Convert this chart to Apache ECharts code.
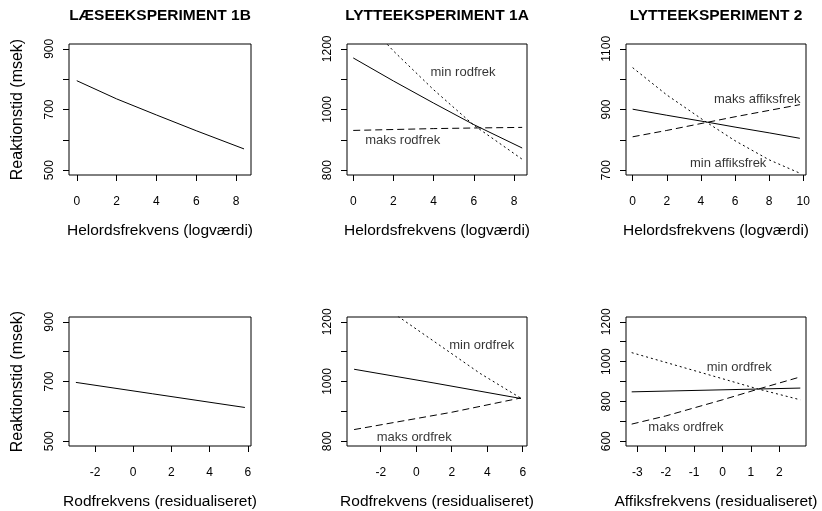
<!DOCTYPE html>
<html>
<head>
<meta charset="utf-8">
<script src="https://cdn.jsdelivr.net/npm/echarts@6/dist/echarts.min.js"></script>
<style>
html,body{margin:0;padding:0;background:#fff;}
#c{width:822px;height:511px;}
</style>
</head>
<body>
<div id="c"></div>
<script>
// ---------- texts ----------
const panelTitles = ['LÆSEEKSPERIMENT 1B', 'LYTTEEKSPERIMENT 1A', 'LYTTEEKSPERIMENT 2'];
const xAxisNames = [
  'Helordsfrekvens (logværdi)', 'Helordsfrekvens (logværdi)', 'Helordsfrekvens (logværdi)',
  'Rodfrekvens (residualiseret)', 'Rodfrekvens (residualiseret)', 'Affiksfrekvens (residualiseret)'
];
const yAxisName = 'Reaktionstid (msek)';

// ---------- Panel 1: Læseeksperiment 1B (helordsfrekvens) ----------
const p1X = [0, 2, 4, 6, 8.4];
const p1Solid = [795, 735, 682, 630, 570];
const p1XTicks = [0, 2, 4, 6, 8];
const p1YTicks = [500, 600, 700, 800, 900];
const p1YLabels = [500, 700, 900];
const p1XLim = [-0.39, 8.75];
const p1YLim = [484, 916];

// ---------- Panel 2: Lytteeksperiment 1A (helordsfrekvens) ----------
const p2X = [0, 2, 4, 6, 8.4];
const p2Solid = [1170, 1094, 1021, 950, 873];
const p2MinRodfrek = [1335, 1193, 1065, 948, 836];
const p2MaksRodfrek = [931, 934, 937, 939, 941];
const p2XTicks = [0, 2, 4, 6, 8];
const p2YTicks = [800, 900, 1000, 1100, 1200];
const p2YLabels = [800, 1000, 1200];
const p2XLim = [-0.31, 8.64];
const p2YLim = [784, 1216];
const p2Notes = [['min rodfrek', 5.46, 1121], ['maks rodfrek', 2.46, 899]];

// ---------- Panel 3: Lytteeksperiment 2 (helordsfrekvens) ----------
const p3X = [0, 2, 4.3, 6, 8, 9.8];
const p3Solid = [901, 881, 859, 842, 823, 805];
const p3MinAffiks = [1038, 948, 859, 797, 734, 690];
const p3MaksAffiks = [810, 831, 857, 876, 897, 916];
const p3XTicks = [0, 2, 4, 6, 8, 10];
const p3YTicks = [700, 800, 900, 1000, 1100];
const p3YLabels = [700, 900, 1100];
const p3XLim = [-0.39, 10.16];
const p3YLim = [684, 1116];
const p3Notes = [['maks affiksfrek', 7.30, 933], ['min affiksfrek', 5.60, 722]];

// ---------- Panel 4: Læseeksperiment 1B (rodfrekvens) ----------
const p4X = [-3, 1, 5.85];
const p4Solid = [697, 659, 613];
const p4XTicks = [-2, 0, 2, 4, 6];
const p4YTicks = [500, 600, 700, 800, 900];
const p4YLabels = [500, 700, 900];
const p4XLim = [-3.36, 6.17];
const p4YLim = [484, 916];

// ---------- Panel 5: Lytteeksperiment 1A (rodfrekvens) ----------
const p5SolidX = [-3.5, 1, 5.9];
const p5Solid = [1041, 995, 943];
const p5MinX = [-3.5, -1, 1.4, 3.6, 5.9];
const p5MinOrdfrek = [1330, 1217, 1118, 1027, 944];
const p5MaksX = [-3.5, 2, 5.9];
const p5MaksOrdfrek = [839, 897, 945];
const p5XTicks = [-2, 0, 2, 4, 6];
const p5YTicks = [800, 900, 1000, 1100, 1200];
const p5YLabels = [800, 1000, 1200];
const p5XLim = [-3.9, 6.24];
const p5YLim = [784, 1216];
const p5Notes = [['min ordfrek', 3.69, 1120], ['maks ordfrek', -0.11, 813]];

// ---------- Panel 6: Lytteeksperiment 2 (affiksfrekvens) ----------
const p6SolidX = [-3.2, 2.74];
const p6Solid = [848, 867];
const p6MinX = [-3.2, -1, 1.26, 2.74];
const p6MinOrdfrek = [1045, 955, 862, 808];
const p6MaksX = [-3.2, -2, 0, 1.26, 2.74];
const p6MaksOrdfrek = [686, 727, 808, 862, 923];
const p6XTicks = [-3, -2, -1, 0, 1, 2];
const p6YTicks = [600, 700, 800, 900, 1000, 1100, 1200];
const p6YLabels = [600, 800, 1000, 1200];
const p6XLim = [-3.4, 2.94];
const p6YLim = [576, 1224];
const p6Notes = [['min ordfrek', 0.59, 973], ['maks ordfrek', -1.29, 669]];

// ---------- assembly ----------
const FONT = '"Liberation Sans", Arial, Helvetica, sans-serif';
const STYLE = { solid: 'solid', dashed: [7, 4], dotted: [2, 3] };

const panels = [
  { xlim: p1XLim, ylim: p1YLim, xt: p1XTicks, yt: p1YTicks, yl: p1YLabels, yName: yAxisName,
    lines: [[p1X, p1Solid, 'solid']], notes: [] },
  { xlim: p2XLim, ylim: p2YLim, xt: p2XTicks, yt: p2YTicks, yl: p2YLabels, yName: '',
    lines: [[p2X, p2Solid, 'solid'], [p2X, p2MinRodfrek, 'dotted'], [p2X, p2MaksRodfrek, 'dashed']], notes: p2Notes },
  { xlim: p3XLim, ylim: p3YLim, xt: p3XTicks, yt: p3YTicks, yl: p3YLabels, yName: '',
    lines: [[p3X, p3Solid, 'solid'], [p3X, p3MinAffiks, 'dotted'], [p3X, p3MaksAffiks, 'dashed']], notes: p3Notes },
  { xlim: p4XLim, ylim: p4YLim, xt: p4XTicks, yt: p4YTicks, yl: p4YLabels, yName: yAxisName,
    lines: [[p4X, p4Solid, 'solid']], notes: [] },
  { xlim: p5XLim, ylim: p5YLim, xt: p5XTicks, yt: p5YTicks, yl: p5YLabels, yName: '',
    lines: [[p5SolidX, p5Solid, 'solid'], [p5MinX, p5MinOrdfrek, 'dotted'], [p5MaksX, p5MaksOrdfrek, 'dashed']], notes: p5Notes },
  { xlim: p6XLim, ylim: p6YLim, xt: p6XTicks, yt: p6YTicks, yl: p6YLabels, yName: '',
    lines: [[p6SolidX, p6Solid, 'solid'], [p6MinX, p6MinOrdfrek, 'dotted'], [p6MaksX, p6MaksOrdfrek, 'dashed']], notes: p6Notes }
];

const gridBoxes = [
  { left: 69, top: 44, width: 182, height: 131 },
  { left: 347, top: 44, width: 180, height: 131 },
  { left: 626, top: 44, width: 180, height: 131 },
  { left: 69, top: 317, width: 182, height: 130 },
  { left: 347, top: 317, width: 180, height: 130 },
  { left: 626, top: 317, width: 180, height: 130 }
];

const plain = v => String(v);
const grid = [], xAxis = [], yAxis = [], series = [], title = [];
panels.forEach((p, i) => {
  const g = gridBoxes[i];
  grid.push(Object.assign({ show: true, borderColor: '#000', borderWidth: 1, backgroundColor: 'transparent', containLabel: false }, g));
  xAxis.push({
    type: 'value', gridIndex: i, min: p.xlim[0], max: p.xlim[1], position: 'bottom',
    axisLine: { show: false, onZero: false }, splitLine: { show: false },
    axisTick: { show: true, length: 6, customValues: p.xt, lineStyle: { color: '#000', width: 1 } },
    axisLabel: { customValues: p.xt, formatter: plain, margin: 21, color: '#000', fontSize: 12, fontFamily: FONT },
    name: xAxisNames[i], nameLocation: 'middle', nameGap: 48,
    nameTextStyle: { color: '#000', fontSize: 15.5, fontFamily: FONT }
  });
  yAxis.push({
    type: 'value', gridIndex: i, min: p.ylim[0], max: p.ylim[1], position: 'left',
    axisLine: { show: false, onZero: false }, splitLine: { show: false },
    axisTick: { show: true, length: 6, customValues: p.yt, lineStyle: { color: '#000', width: 1 } },
    axisLabel: { customValues: p.yl, formatter: plain, rotate: 90, margin: 13, color: '#000', fontSize: 12, fontFamily: FONT },
    name: p.yName, nameLocation: 'middle', nameGap: 43,
    nameTextStyle: { color: '#000', fontSize: 16, fontFamily: FONT }
  });
  p.lines.forEach(([xs, ys, kind]) => {
    series.push({
      type: 'line', xAxisIndex: i, yAxisIndex: i, symbol: 'none', smooth: false,
      clip: true, silent: true, animation: false,
      lineStyle: { color: '#000', width: 1, type: STYLE[kind] },
      data: xs.map((x, k) => [x, ys[k]])
    });
  });
  if (p.notes.length) {
    series.push({
      type: 'scatter', xAxisIndex: i, yAxisIndex: i, symbolSize: 1, silent: true, animation: false,
      itemStyle: { color: 'rgba(0,0,0,0)' },
      label: { show: true, position: 'inside', formatter: '{b}', color: '#000', fontSize: 13, fontFamily: FONT },
      data: p.notes.map(([t, x, y]) => ({ name: t, value: [x, y] }))
    });
  }
  if (i < 3) {
    title.push({
      text: panelTitles[i], left: g.left + g.width / 2, top: 15.5, textAlign: 'center', textVerticalAlign: 'middle',
      padding: 0,
      textStyle: { color: '#000', fontSize: 15.5, fontWeight: 'bold', fontFamily: FONT }
    });
  }
});

const chart = echarts.init(document.getElementById('c'));
chart.setOption({
  backgroundColor: '#fff',
  animation: false,
  textStyle: { fontFamily: FONT },
  title, grid, xAxis, yAxis, series
});
</script>
</body>
</html>
